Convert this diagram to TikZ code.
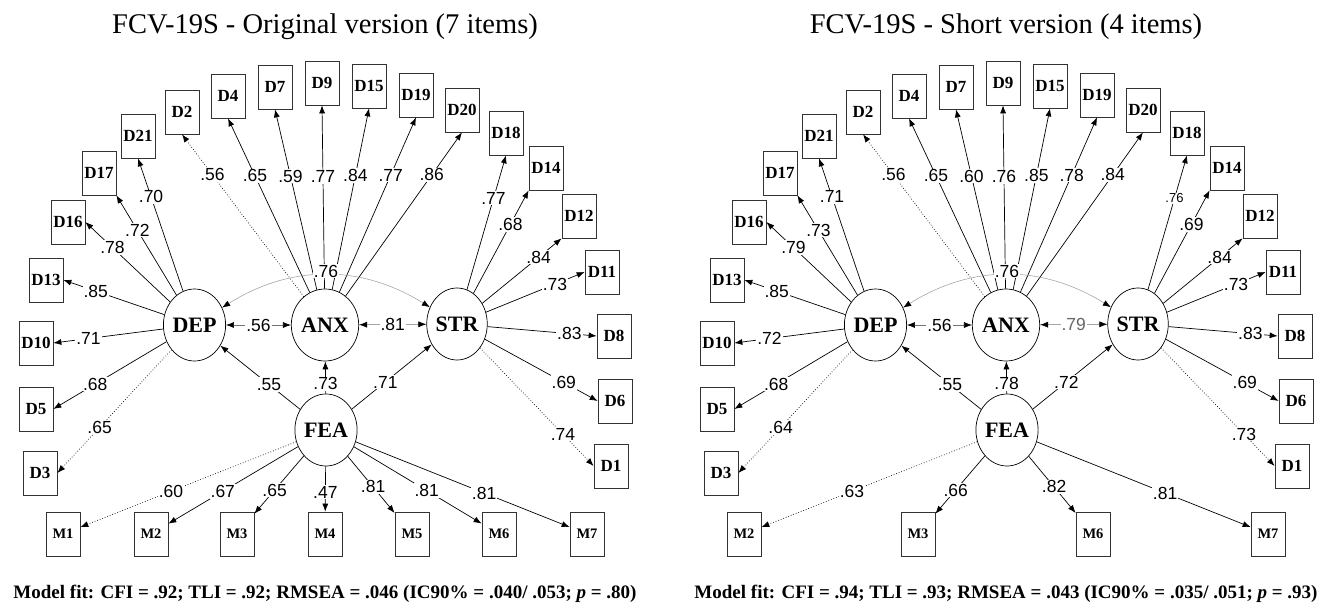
\documentclass[tikz,border=0pt]{standalone}
\usepackage{fontspec}
\setmainfont{Liberation Serif}
\newfontfamily\arialfont{Liberation Sans}
\usetikzlibrary{shapes.geometric,arrows.meta}

\begin{document}
\begin{tikzpicture}[
    x=1pt, y=1pt,
    latent/.style={ellipse, draw=black, line width=0.7pt, minimum width=53pt, minimum height=72pt, inner sep=0pt, font=\bfseries\fontsize{22}{22}\selectfont},
    item/.style={rectangle, draw=black!80, line width=0.7pt, minimum width=34pt, minimum height=44pt, inner sep=0pt, font=\bfseries\fontsize{17}{17}\selectfont},
    mitem/.style={item, font=\bfseries\fontsize{14.5}{14.5}\selectfont},
    load/.style={-{Latex[length=8pt,width=6pt]}, line width=0.7pt},
    first/.style={load, dotted},
    corr/.style={{Latex[length=8pt,width=6pt,color=black]}-{Latex[length=8pt,width=6pt,color=black]}, draw=black!55, line width=0.6pt},
    coef/.style={fill=white, inner sep=1pt, font=\arialfont\fontsize{17.5}{17.5}\selectfont},
    heading/.style={anchor=base, font=\fontsize{28.5}{28.5}\selectfont},
    fitline/.style={anchor=base, font=\bfseries\fontsize{19}{19}\selectfont}
]
\useasboundingbox (0,0) rectangle (1338,-612);

% ---------------- Original version (7 items) ----------------
\node[heading] (title) at (325,-34) {FCV-19S - Original version (7 items)};

% latent factors
\node[latent] (dep) at (194.5,-325) {DEP};
\node[latent] (anx) at (325,-325) {ANX};
\node[latent] (str) at (457,-324) {STR};
\node[latent] (fea) at (326,-430) {FEA};

% DASS items
\node[item] (d21) at (138,-136) {D21};
\node[item] (d17) at (99,-173) {D17};
\node[item] (d16) at (68,-222) {D16};
\node[item] (d13) at (46,-280) {D13};
\node[item] (d10) at (36,-343) {D10};
\node[item] (d5) at (36,-409) {D5};
\node[item] (d3) at (40,-473) {D3};
\node[item] (d2) at (182,-112) {D2};
\node[item] (d4) at (228,-96) {D4};
\node[item] (d7) at (275,-87) {D7};
\node[item] (d9) at (322,-83) {D9};
\node[item] (d15) at (369,-86) {D15};
\node[item] (d19) at (416,-95) {D19};
\node[item] (d20) at (462,-110) {D20};
\node[item] (d18) at (506,-133) {D18};
\node[item] (d14) at (546,-168) {D14};
\node[item] (d12) at (579,-216) {D12};
\node[item] (d11) at (602,-272) {D11};
\node[item] (d8) at (614,-336) {D8};
\node[item] (d6) at (615,-401) {D6};
\node[item] (d1) at (611,-466) {D1};

% FCV-19S items
\node[mitem] (m1) at (63,-534) {M1};
\node[mitem] (m2) at (151,-534) {M2};
\node[mitem] (m3) at (237,-534) {M3};
\node[mitem] (m4) at (325,-534) {M4};
\node[mitem] (m5) at (412,-534) {M5};
\node[mitem] (m6) at (499,-534) {M6};
\node[mitem] (m7) at (587,-534) {M7};

% loadings
\draw[load] (dep) -- node[coef, pos=0.71] {.70} (d21.south);
\draw[load] (dep) -- node[coef, pos=0.65] {.72} (d17.south east);
\draw[load] (dep) -- node[coef, pos=0.68] {.78} (d16.east);
\draw[load] (dep) -- node[coef, pos=0.68] {.85} (d13.east);
\draw[load] (dep) -- node[coef, pos=0.68] {.71} (d10.east);
\draw[load] (dep) -- node[coef, pos=0.63] {.68} (d5.east);
\draw[first] (dep) -- node[coef, pos=0.63] {.65} (d3.east);

\draw[first] (anx) -- node[coef, pos=0.75] {.56} (d2.south);
\draw[load] (anx) -- node[coef, pos=0.67] {.65} (d4.south);
\draw[load] (anx) -- node[coef, pos=0.63] {.59} (d7.south);
\draw[load] (anx) -- node[coef, pos=0.61] {.77} (d9.south);
\draw[load] (anx) -- node[coef, pos=0.63] {.84} (d15.south);
\draw[load] (anx) -- node[coef, pos=0.67] {.77} (d19.south);
\draw[load] (anx) -- node[coef, pos=0.74] {.86} (d20.south);

\draw[load] (str) -- node[coef, pos=0.68] {.77} (d18.south);
\draw[load] (str) -- node[coef, pos=0.67] {.68} (d14.south west);
\draw[load] (str) -- node[coef, pos=0.71] {.84} (d12.south west);
\draw[load] (str) -- node[coef, pos=0.70] {.73} (d11.west);
\draw[load] (str) -- node[coef, pos=0.75] {.83} (d8.west);
\draw[load] (str) -- node[coef, pos=0.70] {.69} (d6.west);
\draw[first] (str) -- node[coef, pos=0.73] {.74} (d1.west);

\draw[first] (fea) -- node[coef, pos=0.58] {.60} (m1);
\draw[load] (fea) -- node[coef, pos=0.58] {.67} (m2);
\draw[load] (fea) -- node[coef, pos=0.59] {.65} (m3);
\draw[load] (fea) -- node[coef, pos=0.57] {.47} (m4);
\draw[load] (fea) -- node[coef, pos=0.54] {.81} (m5);
\draw[load] (fea) -- node[coef, pos=0.57] {.81} (m6);
\draw[load] (fea) -- node[coef, pos=0.60] {.81} (m7);

% structural paths
\draw[load] (fea) -- node[coef, pos=0.39] {.55} (dep);
\draw[load] (fea) -- node[coef, pos=0.30] {.73} (anx);
\draw[load] (fea) -- node[coef, pos=0.42] {.71} (str);

% correlations
\draw[corr] (dep) -- node[coef] {.56} (anx);
\draw[corr] (anx) -- node[coef] {.81} (str);
\draw[corr, draw=black!40, line width=0.5pt] (dep) to[bend left=32] node[coef, yshift=4pt] {.76} (str);

\node[fitline] (fit) at (325,-598) {Model fit: CFI = .92; TLI = .92; RMSEA = .046 (IC90\% = .040/ .053; \textit{p} = .80)};

% ---------------- Short version (4 items) ----------------
\begin{scope}[xshift=681pt]
\node[heading] (stitle) at (325,-34) {FCV-19S - Short version (4 items)};

\node[latent] (sdep) at (194.5,-325) {DEP};
\node[latent] (sanx) at (325,-325) {ANX};
\node[latent] (sstr) at (457,-324) {STR};
\node[latent] (sfea) at (326,-430) {FEA};

\node[item] (sd21) at (138,-136) {D21};
\node[item] (sd17) at (99,-173) {D17};
\node[item] (sd16) at (68,-222) {D16};
\node[item] (sd13) at (46,-280) {D13};
\node[item] (sd10) at (36,-343) {D10};
\node[item] (sd5) at (36,-409) {D5};
\node[item] (sd3) at (40,-473) {D3};
\node[item] (sd2) at (182,-112) {D2};
\node[item] (sd4) at (228,-96) {D4};
\node[item] (sd7) at (275,-87) {D7};
\node[item] (sd9) at (322,-83) {D9};
\node[item] (sd15) at (369,-86) {D15};
\node[item] (sd19) at (416,-95) {D19};
\node[item] (sd20) at (462,-110) {D20};
\node[item] (sd18) at (506,-133) {D18};
\node[item] (sd14) at (546,-168) {D14};
\node[item] (sd12) at (579,-216) {D12};
\node[item] (sd11) at (602,-272) {D11};
\node[item] (sd8) at (614,-336) {D8};
\node[item] (sd6) at (615,-401) {D6};
\node[item] (sd1) at (611,-466) {D1};

\node[mitem] (sm2) at (63,-534) {M2};
\node[mitem] (sm3) at (237,-534) {M3};
\node[mitem] (sm6) at (412,-534) {M6};
\node[mitem] (sm7) at (587,-534) {M7};

\draw[load] (sdep) -- node[coef, pos=0.71] {.71} (sd21.south);
\draw[load] (sdep) -- node[coef, pos=0.65] {.73} (sd17.south east);
\draw[load] (sdep) -- node[coef, pos=0.68] {.79} (sd16.east);
\draw[load] (sdep) -- node[coef, pos=0.68] {.85} (sd13.east);
\draw[load] (sdep) -- node[coef, pos=0.68] {.72} (sd10.east);
\draw[load] (sdep) -- node[coef, pos=0.63] {.68} (sd5.east);
\draw[first] (sdep) -- node[coef, pos=0.63] {.64} (sd3.east);

\draw[first] (sanx) -- node[coef, pos=0.75] {.56} (sd2.south);
\draw[load] (sanx) -- node[coef, pos=0.67] {.65} (sd4.south);
\draw[load] (sanx) -- node[coef, pos=0.63] {.60} (sd7.south);
\draw[load] (sanx) -- node[coef, pos=0.61] {.76} (sd9.south);
\draw[load] (sanx) -- node[coef, pos=0.63] {.85} (sd15.south);
\draw[load] (sanx) -- node[coef, pos=0.67] {.78} (sd19.south);
\draw[load] (sanx) -- node[coef, pos=0.74] {.84} (sd20.south);

\draw[load] (sstr) -- node[coef, pos=0.68, font=\arialfont\fontsize{13}{13}\selectfont] {.76} (sd18.south);
\draw[load] (sstr) -- node[coef, pos=0.67] {.69} (sd14.south west);
\draw[load] (sstr) -- node[coef, pos=0.71] {.84} (sd12.south west);
\draw[load] (sstr) -- node[coef, pos=0.70] {.73} (sd11.west);
\draw[load] (sstr) -- node[coef, pos=0.75] {.83} (sd8.west);
\draw[load] (sstr) -- node[coef, pos=0.70] {.69} (sd6.west);
\draw[first] (sstr) -- node[coef, pos=0.73] {.73} (sd1.west);

\draw[first] (sfea) -- node[coef, pos=0.58] {.63} (sm2);
\draw[load] (sfea) -- node[coef, pos=0.59] {.66} (sm3);
\draw[load] (sfea) -- node[coef, pos=0.54] {.82} (sm6);
\draw[load] (sfea) -- node[coef, pos=0.60] {.81} (sm7);

\draw[load] (sfea) -- node[coef, pos=0.39] {.55} (sdep);
\draw[load] (sfea) -- node[coef, pos=0.30] {.78} (sanx);
\draw[load] (sfea) -- node[coef, pos=0.42] {.72} (sstr);

\draw[corr] (sdep) -- node[coef] {.56} (sanx);
\draw[corr] (sanx) -- node[coef, text=black!60] {.79} (sstr);
\draw[corr, draw=black!40, line width=0.5pt] (sdep) to[bend left=32] node[coef, yshift=4pt] {.76} (sstr);

\node[fitline] (sfit) at (325,-598) {Model fit: CFI = .94; TLI = .93; RMSEA = .043 (IC90\% = .035/ .051; \textit{p} = .93)};
\end{scope}
\end{tikzpicture}
\end{document}
